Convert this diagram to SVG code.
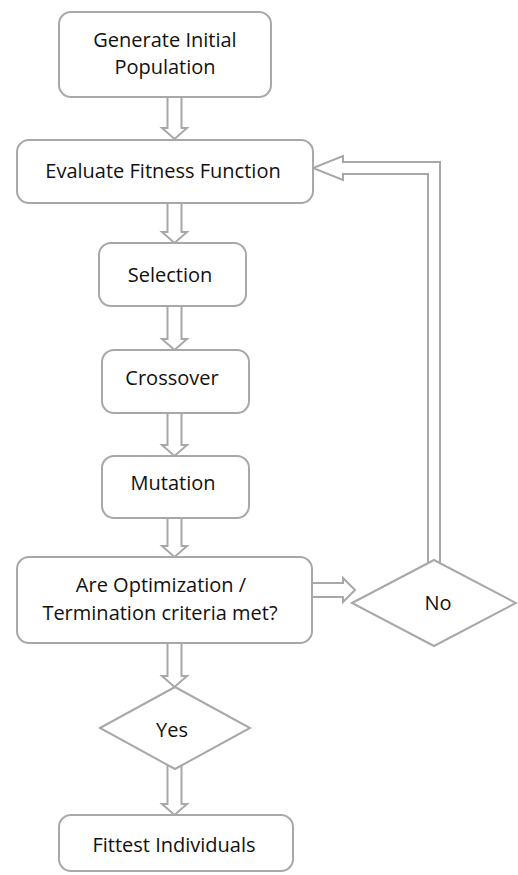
<svg xmlns="http://www.w3.org/2000/svg" width="518" height="875" viewBox="0 0 518 875">
<style>
.box{fill:#fff;stroke:#a8a8a8;stroke-width:2}
.arr{fill:#fff;stroke:#a8a8a8;stroke-width:2;stroke-linejoin:miter}
.t{font-family:"Open Sans","Liberation Sans",sans-serif;font-size:20px;fill:#111;text-anchor:middle}
</style>
<rect width="518" height="875" fill="#fff"/>
<g id="connectors">
<path class="arr" d="M167.5,97 L167.5,128 L162,128 L174.5,139 L187,128 L181.5,128 L181.5,97"/>
<path class="arr" d="M167.5,203 L167.5,232 L162,232 L174.5,243 L187,232 L181.5,232 L181.5,203"/>
<path class="arr" d="M167.5,306 L167.5,339 L162,339 L174.5,350 L187,339 L181.5,339 L181.5,306"/>
<path class="arr" d="M167.5,413 L167.5,445 L162,445 L174.5,456 L187,445 L181.5,445 L181.5,413"/>
<path class="arr" d="M167.5,518 L167.5,546 L162,546 L174.5,557 L187,546 L181.5,546 L181.5,518"/>
<path class="arr" d="M167.5,643 L167.5,676 L162,676 L174.5,687 L187,676 L181.5,676 L181.5,643"/>
<path class="arr" d="M167.5,764 L167.5,804 L162,804 L174.5,815 L187,804 L181.5,804 L181.5,764"/>
<path class="arr" d="M312,583 L343,583 L343,578 L355,590 L343,602 L343,597 L312,597"/>
<path class="arr" d="M428,563.5 L428,174 L343,174 L343,180 L313,168 L343,156 L343,162 L440,162 L440,563.5"/>
</g>
<g id="n1"><rect class="box" x="59" y="12" width="212" height="85" rx="12"/><text class="t" x="165" y="47">Generate Initial</text><text class="t" x="165" y="74">Population</text></g>
<g id="n2"><rect class="box" x="17" y="140" width="296" height="63" rx="12"/><text class="t" x="163" y="178">Evaluate Fitness Function</text></g>
<g id="n3"><rect class="box" x="99" y="243" width="147" height="63" rx="12"/><text class="t" x="170" y="282">Selection</text></g>
<g id="n4"><rect class="box" x="102" y="350" width="147" height="63" rx="12"/><text class="t" x="172" y="385">Crossover</text></g>
<g id="n5"><rect class="box" x="102" y="456" width="147" height="62" rx="12"/><text class="t" x="173" y="490">Mutation</text></g>
<g id="n6"><rect class="box" x="17" y="557" width="295" height="86" rx="12"/><text class="t" x="161" y="592">Are Optimization /</text><text class="t" x="160" y="620">Termination criteria met?</text></g>
<g id="n7"><polygon class="box" points="352,603 434,560 516,603 434,646"/><text class="t" x="438" y="610">No</text></g>
<g id="n8"><polygon class="box" points="100,728 175,687 250,728 175,769"/><text class="t" x="172" y="737">Yes</text></g>
<g id="n9"><rect class="box" x="59" y="815" width="234" height="56" rx="12"/><text class="t" x="174" y="852">Fittest Individuals</text></g>
</svg>
